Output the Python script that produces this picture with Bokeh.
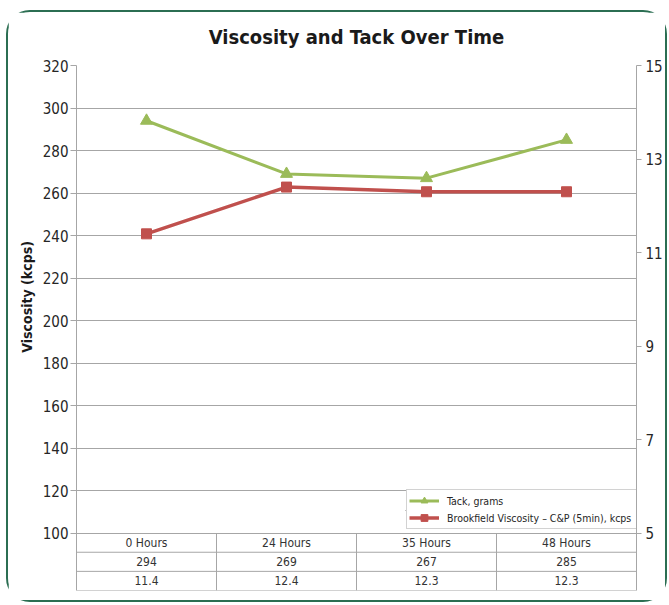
from bokeh.plotting import figure
from bokeh.models import Range1d, LinearAxis, FixedTicker, Legend, LegendItem, Grid, Title
from bokeh.embed import file_html
from bokeh.resources import INLINE
from bokeh.core.properties import value

# ---- data ----
categories = ["0 Hours", "24 Hours", "35 Hours", "48 Hours"]
tack = [294, 269, 267, 285]
viscosity = [11.4, 12.4, 12.3, 12.3]
left_ticks = [100, 120, 140, 160, 180, 200, 220, 240, 260, 280, 300, 320]
right_ticks = [5, 7, 9, 11, 13, 15]
tack_label = "Tack, grams"
visc_label = "Brookfield Viscosity \u2013 C&P (5min), kcps"
y_title = "Viscosity (kcps)"
chart_title = "Viscosity and Tack Over Time"

# ---- styling / layout ----
FONT = "'Noto Sans Condensed', 'DejaVu Sans Condensed', 'Roboto Condensed', 'Liberation Sans Narrow', Roboto, sans-serif"
GREEN = "#9BBB59"
RED = "#C0504D"
GRID = "#a6a6a6"
TXT = "#262626"
W, H = 657, 588
MB_L, MB_R, MB_T, MB_B = 68, 27, 53, 10

n = len(categories)
xs = [i + 0.5 for i in range(n)]
y_lo, y_hi = 73, 320          # left range incl. table area
row_step = 9                  # table row height in left-axis units
rows_top = left_ticks[0]
r_lo_val, r_hi_val = right_ticks[0], right_ticks[-1]
r_scale = (r_hi_val - r_lo_val) / (left_ticks[-1] - left_ticks[0])
r_start = r_lo_val - (rows_top - y_lo) * r_scale

p = figure(width=W, height=H, output_backend="svg", toolbar_location=None,
           x_range=Range1d(0, n), y_range=Range1d(y_lo, y_hi),
           min_border_left=MB_L, min_border_right=MB_R,
           min_border_top=MB_T, min_border_bottom=MB_B,
           x_axis_location=None, y_axis_location=None)
p.styles = {"margin-left": "8px", "margin-top": "12px",
            "outline": "2px solid #2B6E52", "outline-offset": "0px",
            "border-radius": "22px"}
p.outline_line_color = None
p.background_fill_color = "white"
p.border_fill_color = "white"
for g0 in list(p.xgrid) + list(p.ygrid):
    g0.grid_line_color = None

frame_w = W - MB_L - MB_R
frame_h = H - MB_T - MB_B
ppu_x = frame_w / n
ppu_y = frame_h / (y_hi - y_lo)

# spacer between frame and title (pushes the title upward)
p.add_layout(Title(text=" ", text_font_size="9px", standoff=0), "above")
p.title.text = chart_title
p.title.text_font = FONT
p.title.text_font_size = "20px"
p.title.text_font_style = "bold"
p.title.text_color = "#1a1a1a"
p.title.align = "center"

p.extra_y_ranges = {"right": Range1d(r_start, r_hi_val)}

yl = LinearAxis(ticker=FixedTicker(ticks=left_ticks))
yr = LinearAxis(ticker=FixedTicker(ticks=right_ticks), y_range_name="right")
for ax in (yl, yr):
    ax.axis_line_color = GRID
    ax.major_tick_line_color = GRID
    ax.minor_tick_line_color = None
    ax.major_tick_in = 0
    ax.major_label_text_font = FONT
    ax.major_label_text_font_size = "15px"
    ax.major_label_text_color = TXT
yl.major_tick_out = 6
yl.major_label_standoff = 2
yr.major_tick_out = 5
yr.major_label_standoff = 4
p.add_layout(yl, "left")
p.add_layout(yr, "right")

# y-axis title, placed so it is centred on the plotting area (not the table)
plot_mid_px = (((left_ticks[0] + left_ticks[-1]) / 2) - y_lo) * ppu_y
ytitle_len = 107
p.add_layout(Title(text=y_title, align="left", offset=plot_mid_px - ytitle_len / 2,
                   text_font=FONT, text_font_size="14px", text_font_style="bold",
                   text_color="#1a1a1a", standoff=10), "left")

p.add_layout(Grid(dimension=1, ticker=yl.ticker, grid_line_color=GRID, grid_line_width=1))

# ---- data table below the plot ----
row_lines = [rows_top - row_step * k for k in range(1, 4)]
p.segment(x0=[0] * len(row_lines), x1=[n] * len(row_lines), y0=row_lines, y1=row_lines,
          line_color=GRID, line_width=1)
p.segment(x0=list(range(1, n)), x1=list(range(1, n)), y0=[y_lo] * (n - 1), y1=[rows_top] * (n - 1),
          line_color=GRID, line_width=1)
row_texts = [categories, [str(v) for v in tack], [str(v) for v in viscosity]]
for k, texts in enumerate(row_texts):
    yc = rows_top - row_step * (k + 0.5)
    p.text(x=xs, y=[yc] * n, text=texts, text_font=value(FONT), text_font_size="12px",
           text_color="#333333", text_align="center", text_baseline="middle")

# ---- series ----
l1 = p.line(xs, tack, line_color=GREEN, line_width=3)
s1 = p.scatter(xs, tack, marker="triangle", size=12, fill_color=GREEN, line_color=GREEN)
l2 = p.line(xs, viscosity, line_color=RED, line_width=3.5, y_range_name="right")
s2 = p.scatter(xs, viscosity, marker="square", size=10, fill_color=RED, line_color=RED,
               y_range_name="right")

# ---- legend ----
LEG_W, LEG_Y = 232, 61
PAD, ROW_H, GW, STD = 2, 17, 30, 8
LEG_X = frame_w - LEG_W
legend = Legend(items=[LegendItem(label=tack_label, renderers=[l1, s1]),
                       LegendItem(label=visc_label, renderers=[l2, s2])],
                location=(LEG_X, LEG_Y), padding=PAD, spacing=0, margin=0,
                glyph_width=GW, glyph_height=ROW_H, label_height=ROW_H,
                label_standoff=STD, label_width=LEG_W - 2 * PAD - GW - STD,
                label_text_font=FONT, label_text_font_size="10.5px", label_text_color=TXT,
                border_line_color=GRID, border_line_width=1,
                background_fill_color="white", background_fill_alpha=1)
p.add_layout(legend)
sep_y = y_lo + (LEG_Y + PAD + ROW_H) / ppu_y
p.segment(x0=[LEG_X / ppu_x], x1=[n], y0=[sep_y], y1=[sep_y], line_color=GRID,
          line_width=1, level="overlay")

open("out.html", "w").write(file_html(p, INLINE))
